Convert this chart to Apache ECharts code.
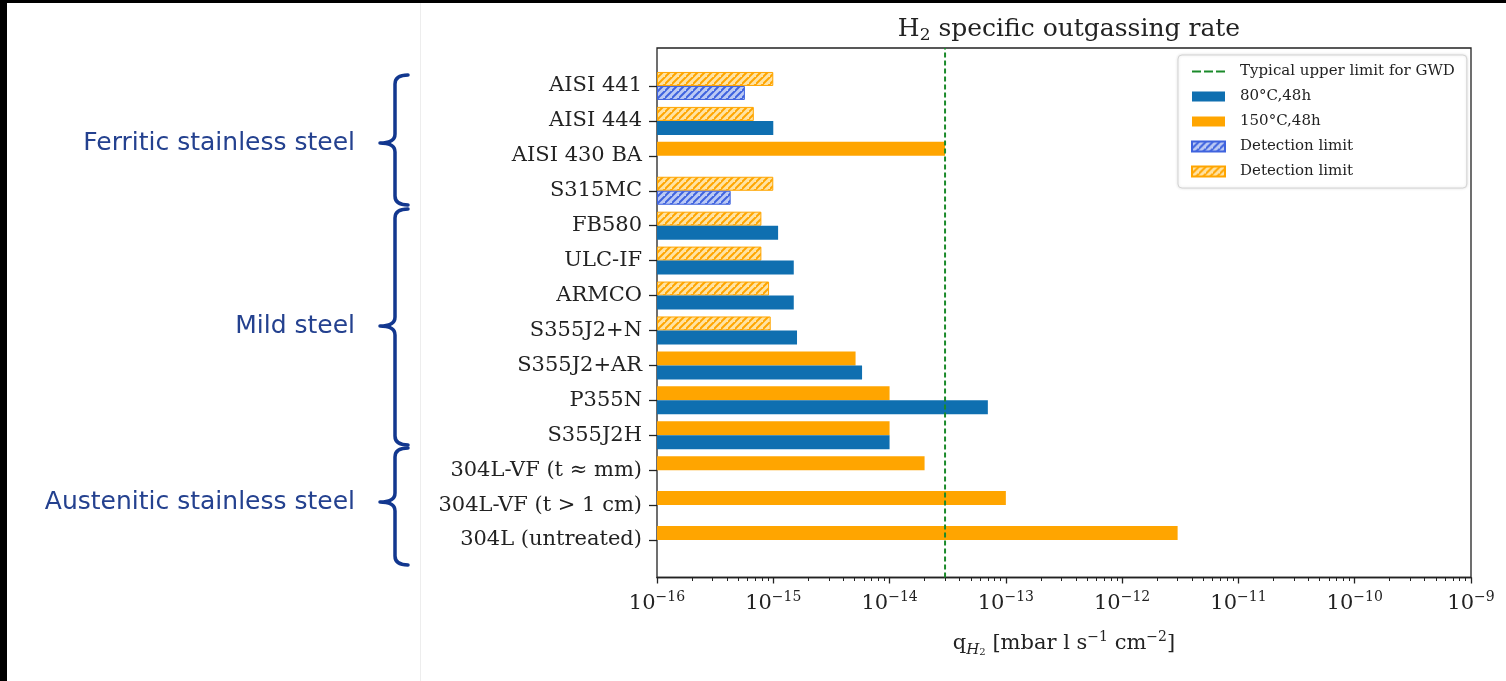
<!DOCTYPE html>
<html><head><meta charset="utf-8">
<script src="https://cdn.jsdelivr.net/npm/echarts@6/dist/echarts.min.js"></script>
<style>html,body{margin:0;padding:0;background:#fff}#c{width:1506px;height:681px}</style>
</head><body><div id="c"></div>
<script>
// ---- data ----
const categories = ['AISI 441','AISI 444','AISI 430 BA','S315MC','FB580','ULC-IF','ARMCO','S355J2+N','S355J2+AR','P355N','S355J2H','304L-VF (t \u2248 mm)','304L-VF (t > 1 cm)','304L (untreated)'];
const rate80 = [5.7e-16, 1.0e-15, null, 4.3e-16, 1.1e-15, 1.5e-15, 1.5e-15, 1.6e-15, 5.8e-15, 7.0e-14, 1.0e-14, null, null, null];
const rate150 = [1.0e-15, 6.8e-16, 3.0e-14, 1.0e-15, 7.9e-16, 7.9e-16, 9.2e-16, 9.5e-16, 5.1e-15, 1.0e-14, 1.0e-14, 2.0e-14, 1.0e-13, 3.0e-12];
const detLimit80 = [true,false,false,true,false,false,false,false,false,false,false,false,false,false];
const detLimit150 = [true,true,false,true,true,true,true,true,false,false,false,false,false,false];
const gwdUpperLimit = 3e-14;
const xMin = 1e-16, xMax = 1e-9;
const groupLabels = ['Ferritic stainless steel','Mild steel','Austenitic stainless steel'];

// ---- styling ----
const BLUE = '#0f6fb0', ORANGE = '#ffa500', GREEN = '#1a8a2a';
const SERIF = '"DejaVu Serif", serif';
function hatch(bg, fg) {
  const s = 7;
  const c = document.createElement('canvas'); c.width = s; c.height = s;
  const g = c.getContext('2d');
  g.fillStyle = bg; g.fillRect(0, 0, s, s);
  g.strokeStyle = fg; g.lineWidth = 2;
  g.beginPath();
  g.moveTo(-1, s + 1); g.lineTo(s + 1, -1);
  g.moveTo(-s - 1, s + 1); g.lineTo(1, -1);
  g.moveTo(s - 1, 2 * s + 1); g.lineTo(2 * s + 1, s - 1);
  g.stroke();
  return {image: c, repeat: 'repeat'};
}
const hatchBlue = hatch('#bccaf4', '#3f63de');
const hatchOrange = hatch('#ffe3a3', '#ffa500');
const hatchStyleBlue = {color: hatchBlue, borderColor: '#3f63de', borderWidth: 1};
const hatchStyleOrange = {color: hatchOrange, borderColor: '#ffa500', borderWidth: 1};

const data150 = rate150.map((v, i) => v == null ? '-' : (detLimit150[i] ? {value: v, itemStyle: hatchStyleOrange} : v));
const data80 = rate80.map((v, i) => v == null ? '-' : (detLimit80[i] ? {value: v, itemStyle: hatchStyleBlue} : v));

const minorTicks = [];
for (let n = -16; n < -9; n++) for (let k = 2; k <= 9; k++) minorTicks.push(n + Math.log10(k));

function bracePath(y0, ym, y1) {
  const xr = 408, xs = 395, xt = 380, r = 9;
  return `M${xr},${y0} Q${xs},${y0} ${xs},${y0 + r} L${xs},${ym - r} Q${xs},${ym} ${xt},${ym} Q${xs},${ym} ${xs},${ym + r} L${xs},${y1 - r} Q${xs},${y1} ${xr},${y1}`;
}
const braces = [[75, 143, 205], [209, 326, 445], [448, 502, 565]];
braces.forEach((b, i) => {
  echarts.graphic.registerShape('brace' + i, echarts.graphic.extendPath(bracePath(b[0], b[1], b[2]), {}));
});

const dashIcon = 'path://M0,0h0.05v0.05h-0.05zM0,4h9v2h-9zM12,4h9v2h-9zM24,4h9v2h-9zM32.95,9.95h0.05v0.05h-0.05z';
const plotRect = {left: 657, width: 814, top: 48, height: 529.5};

const chart = echarts.init(document.getElementById('c'), null, {renderer: 'canvas'});
const option = {
  animation: false,
  backgroundColor: '#fff',
  title: {
    text: 'H{sub|2} specific outgassing rate',
    left: 1064, top: 9, textAlign: 'center',
    textStyle: {fontFamily: SERIF, fontSize: 25, fontWeight: 'normal', color: '#222', lineHeight: 30,
      rich: {sub: {fontFamily: SERIF, fontSize: 17, lineHeight: 18, verticalAlign: 'bottom', color: '#222'}}}
  },
  legend: {
    orient: 'vertical', left: 1178, top: 55,
    padding: [9, 12, 9, 13],
    itemWidth: 33, itemHeight: 10, itemGap: 10,
    backgroundColor: '#fff', borderColor: '#d4d4d4', borderWidth: 1, borderRadius: 4,
    shadowColor: 'rgba(0,0,0,0.12)', shadowBlur: 3,
    textStyle: {fontFamily: SERIF, fontSize: 15, lineHeight: 15, color: '#222', padding: [0, 0, 0, 10]},
    formatter: n => n.indexOf('Detection') === 0 ? 'Detection limit' : n,
    data: [
      {name: 'Typical upper limit for GWD', icon: dashIcon},
      {name: '80°C,48h', icon: 'rect'},
      {name: '150°C,48h', icon: 'rect'},
      {name: 'Detection limit (80°C)', icon: 'rect'},
      {name: 'Detection limit (150°C)', icon: 'rect'}
    ]
  },
  grid: [
    {left: 657, width: 814, top: 68.5, height: 489, containLabel: false},
    Object.assign({show: true, borderColor: '#222', borderWidth: 1.3, backgroundColor: 'transparent', containLabel: false}, plotRect),
    Object.assign({containLabel: false}, plotRect)
  ],
  xAxis: [
    {gridIndex: 0, type: 'log', logBase: 10, min: xMin, max: xMax, startValue: xMin, show: false},
    {gridIndex: 1, type: 'log', logBase: 10, min: xMin, max: xMax, startValue: xMin, splitNumber: 7,
      position: 'bottom',
      axisLine: {show: true, lineStyle: {color: '#222', width: 1.3}},
      axisTick: {show: true, length: 6, lineStyle: {color: '#222', width: 1.3}},
      splitLine: {show: false},
      axisLabel: {margin: 13, color: '#222',
        formatter: v => '{b|10}{s|\u2212' + Math.abs(Math.round(Math.log10(v))) + '}',
        rich: {
          b: {fontFamily: SERIF, fontSize: 21, lineHeight: 27, color: '#222'},
          s: {fontFamily: SERIF, fontSize: 14, lineHeight: 13, verticalAlign: 'top', color: '#222'}
        }},
      name: '{q|q}{hs|H}{hss|2}{t| [mbar l s}{sup|\u22121}{t| cm}{sup|\u22122}{t|]}',
      nameLocation: 'middle', nameGap: 53,
      nameTextStyle: {color: '#222', rich: {
        q: {fontFamily: SERIF, fontSize: 21, lineHeight: 27, color: '#222'},
        t: {fontFamily: SERIF, fontSize: 21, lineHeight: 27, color: '#222'},
        hs: {fontFamily: SERIF, fontSize: 15, fontStyle: 'italic', lineHeight: 18, verticalAlign: 'bottom', color: '#222'},
        hss: {fontFamily: SERIF, fontSize: 10, lineHeight: 11, verticalAlign: 'bottom', color: '#222'},
        sup: {fontFamily: SERIF, fontSize: 14, lineHeight: 13, verticalAlign: 'top', color: '#222'}
      }}
    },
    {gridIndex: 1, type: 'value', min: -16, max: -9, position: 'bottom',
      axisLine: {show: false}, axisLabel: {show: false}, splitLine: {show: false},
      axisTick: {show: true, length: 3.5, customValues: minorTicks, lineStyle: {color: '#222', width: 1}}},
    {gridIndex: 2, type: 'log', logBase: 10, min: xMin, max: xMax, show: false}
  ],
  yAxis: [
    {gridIndex: 0, type: 'category', data: categories, inverse: true,
      axisLine: {show: false},
      axisTick: {show: true, alignWithLabel: true, length: 8, lineStyle: {color: '#222', width: 1.3}},
      axisLabel: {fontFamily: SERIF, fontSize: 21, color: '#222', margin: 15},
      splitLine: {show: false}},
    {gridIndex: 1, type: 'category', data: categories, inverse: true, show: false},
    {gridIndex: 2, type: 'value', min: 0, max: 1, show: false}
  ],
  series: [
    {name: '150°C,48h', type: 'bar', xAxisIndex: 0, yAxisIndex: 0, data: data150,
      barWidth: 14, barGap: '0%', itemStyle: {color: ORANGE}},
    {name: '80°C,48h', type: 'bar', xAxisIndex: 0, yAxisIndex: 0, data: data80,
      barWidth: 14, barGap: '0%', itemStyle: {color: BLUE}},
    {name: 'Typical upper limit for GWD', type: 'line', xAxisIndex: 3, yAxisIndex: 2,
      data: [[gwdUpperLimit, 0], [gwdUpperLimit, 1]],
      symbol: 'none', showSymbol: false, itemStyle: {color: GREEN}, z: 5,
      lineStyle: {color: GREEN, type: [5, 3], width: 2}},
    {name: 'Detection limit (80°C)', type: 'bar', xAxisIndex: 1, yAxisIndex: 1, data: [], itemStyle: hatchStyleBlue},
    {name: 'Detection limit (150°C)', type: 'bar', xAxisIndex: 1, yAxisIndex: 1, data: [], itemStyle: hatchStyleOrange}
  ],
  graphic: [
    {type: 'rect', shape: {x: 0, y: 0, width: 1506, height: 3}, style: {fill: '#000'}, z: 100},
    {type: 'rect', shape: {x: 0, y: 0, width: 7, height: 681}, style: {fill: '#000'}, z: 100},
    {type: 'line', shape: {x1: 420.5, y1: 3, x2: 420.5, y2: 681}, style: {stroke: '#ededed', lineWidth: 1}},
    ...braces.map((b, i) => ({type: 'brace' + i,
      style: {fill: 'none', stroke: '#12378f', lineWidth: 3.5, lineCap: 'round', lineJoin: 'round'}})),
    ...groupLabels.map((t, i) => ({type: 'text', x: 355, y: braces[i][1],
      style: {text: t, font: '25px "DejaVu Sans", sans-serif', fill: '#24418f',
        align: 'right', verticalAlign: 'middle', textAlign: 'right', textVerticalAlign: 'middle'}}))
  ]
};
chart.setOption(option);
</script>
</body></html>
